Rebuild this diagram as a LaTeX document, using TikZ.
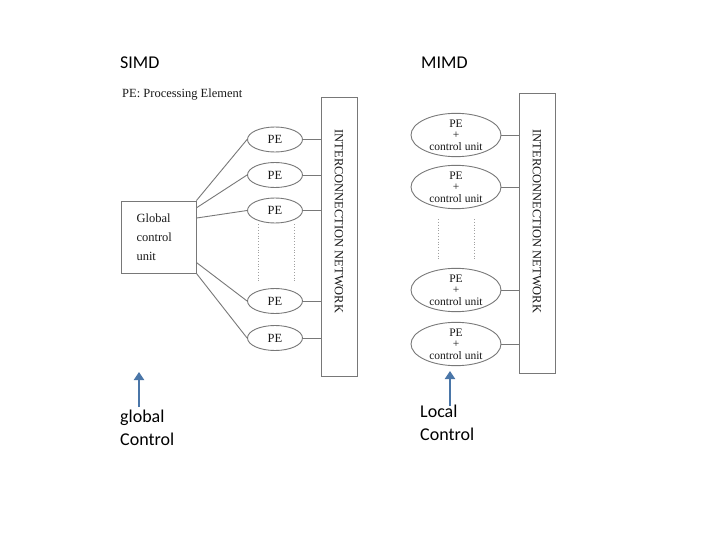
\documentclass[tikz,border=0pt]{standalone}
\usepackage{fontspec}
\setmainfont{Liberation Serif}
\newfontfamily\calfont{Carlito}
\usetikzlibrary{shapes.geometric,calc,arrows.meta}
\definecolor{linegray}{RGB}{120,120,120}
\definecolor{textgray}{RGB}{25,25,25}
\definecolor{arrowblue}{RGB}{74,118,168}
\tikzset{
  diag/.style={draw=linegray, line width=0.9pt},
  dotline/.style={draw=linegray!70, line width=0.8pt, dotted},
  pebox/.style={ellipse, draw=linegray, line width=0.9pt, minimum width=55, minimum height=25, inner sep=0pt, text=textgray, font=\fontsize{12.5}{14}\selectfont},
  mpebox/.style={ellipse, draw=linegray, line width=0.9pt, minimum width=90, minimum height=43, inner sep=0pt, align=center, text=textgray, font=\fontsize{11.5}{11.5}\selectfont},
  netbox/.style={rectangle, draw=linegray, line width=0.9pt, minimum width=36, inner sep=0pt},
  netlabel/.style={rotate=-90, inner sep=0pt, text=textgray, font=\fontsize{12.5}{14}\selectfont},
  serif/.style={inner sep=0pt, text=textgray, font=\fontsize{12.5}{14}\selectfont},
  calibri/.style={inner sep=0pt, text=black, align=left, font=\calfont\fontsize{18}{23}\selectfont},
  ctrlarrow/.style={draw=arrowblue, line width=2.6pt, -{Triangle[width=10pt,length=8pt]}}
}
\begin{document}
\begin{tikzpicture}[x=1pt,y=-1pt]
\useasboundingbox[fill=white] (0,0) rectangle (720,540);

% titles
\node[calibri, anchor=base west] (simd) at (120,69) {SIMD};
\node[calibri, anchor=base west] (mimd) at (421,69) {MIMD};
\node[serif, anchor=west] (legend) at (122,95) {PE: Processing Element};

% ---------------- SIMD ----------------
\node[netbox, minimum height=279] (net1) at (339,236.5) {};
\node[netlabel] (net1lab) at (339,221.5) {INTERCONNECTION NETWORK};

\node[rectangle, diag, minimum width=75, minimum height=72, inner sep=0pt,
      text width=44, align=left, text=textgray, font=\fontsize{12.5}{19}\selectfont]
      (gcu) at (158.5,237) {Global\\control\\unit};

\node[pebox] (pe1) at (275,139.5) {PE};
\node[pebox] (pe2) at (275,175) {PE};
\node[pebox] (pe3) at (275,210.5) {PE};
\node[pebox] (pe4) at (275,301) {PE};
\node[pebox] (pe5) at (275,338) {PE};

\coordinate (g2) at ($(gcu.north east)!0.10!(gcu.south east)$);
\coordinate (g3) at ($(gcu.north east)!0.24!(gcu.south east)$);
\coordinate (g4) at ($(gcu.north east)!0.85!(gcu.south east)$);
\draw[diag] (gcu.north east) -- (pe1.west);
\draw[diag] (g2) -- (pe2.west);
\draw[diag] (g3) -- (pe3.west);
\draw[diag] (g4) -- (pe4.west);
\draw[diag] (gcu.south east) -- (pe5.west);

\foreach \p in {pe1,pe2,pe3,pe4,pe5}
  \draw[diag] (\p.east) -- (\p.east -| net1.west);

\draw[dotline] ($(pe3.south)+(-17,1)$) -- ($(pe4.north)+(-17,-7)$);
\draw[dotline] ($(pe3.south)+(19,1)$) -- ($(pe4.north)+(19,-7)$);

% ---------------- MIMD ----------------
\node[netbox, minimum height=280] (net2) at (537,233) {};
\node[netlabel] (net2lab) at (537,221.5) {INTERCONNECTION NETWORK};

\node[mpebox] (m1) at (456,135) {PE\\+\\control unit};
\node[mpebox] (m2) at (456,187) {PE\\+\\control unit};
\node[mpebox] (m3) at (456,290) {PE\\+\\control unit};
\node[mpebox] (m4) at (456,344) {PE\\+\\control unit};

\foreach \p in {m1,m2,m3,m4}
  \draw[diag] (\p.east) -- (\p.east -| net2.west);

\draw[dotline] ($(m2.south)+(-18,10)$) -- ($(m3.north)+(-18,-9)$);
\draw[dotline] ($(m2.south)+(18,10)$) -- ($(m3.north)+(18,-9)$);

% ---------------- control labels ----------------
\node[calibri, anchor=north west] (glab) at (120,410) {global\\Control};
\node[calibri, anchor=north west] (llab) at (420,405) {Local\\Control};

\coordinate (gtail) at (139,407);
\coordinate (gtip) at (139,372);
\coordinate (ltail) at (450,406);
\coordinate (ltip) at (450,371);
\draw[ctrlarrow] (gtail) -- (gtip);
\draw[ctrlarrow] (ltail) -- (ltip);
\end{tikzpicture}
\end{document}
